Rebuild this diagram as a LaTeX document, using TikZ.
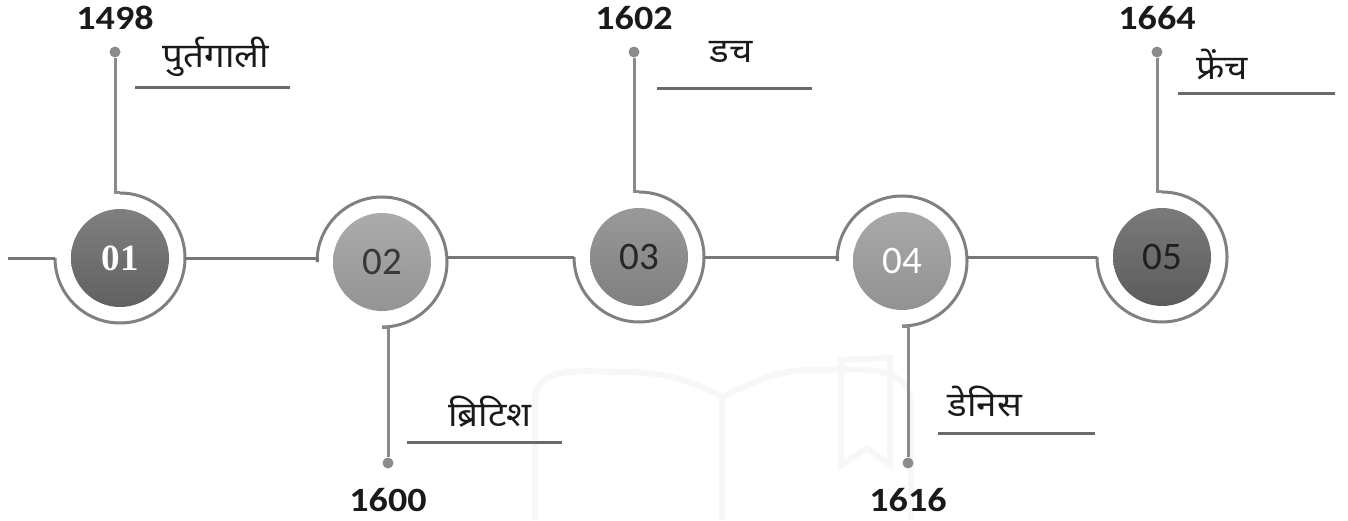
\documentclass[tikz,border=0pt]{standalone}
\usepackage{fontspec}
\newfontfamily\yearfont{Carlito}
\newfontfamily\numserif{Liberation Serif}
\newfontfamily\hindi[Script=Devanagari]{Noto Sans}
\usetikzlibrary{calc}

\definecolor{linegray}{HTML}{777777}
\definecolor{ringgray}{HTML}{808080}
\definecolor{stemgray}{HTML}{8A8A8A}
\definecolor{dotgray}{HTML}{8C8C8C}
\definecolor{rulegray}{HTML}{6A6A6A}
\definecolor{markgray}{HTML}{F7F7F7}
\definecolor{inkdark}{HTML}{1A1A1A}

\tikzset{
  link/.style={draw=linegray, line width=3pt},
  ringline/.style={draw=ringgray, line width=3pt},
  stem/.style={draw=stemgray, line width=3pt},
  rule/.style={draw=rulegray, line width=3pt},
  pin/.style={circle, fill=dotgray, inner sep=0pt, minimum size=11pt},
  disk/.style={circle, inner sep=0pt, minimum size=98pt},
  year/.style={font=\yearfont\bfseries\fontsize{34}{34}\selectfont, text=inkdark, xscale=1.12, inner sep=0pt},
  place/.style={font=\hindi\fontsize{34}{34}\selectfont, text=inkdark, xscale=1.08, inner sep=0pt},
  numsans/.style={font=\yearfont\fontsize{39}{39}\selectfont},
}

\begin{document}
\begin{tikzpicture}[x=1pt,y=1pt]
\useasboundingbox (0,0) rectangle (1348,520);

% faint book logo in the background
\begin{scope}[draw=markgray, line width=6pt]
  \draw (535,0) -- (535,120) to[out=90,in=180] (623,148) to[out=0,in=155] (722,124) -- (722,0);
  \draw (724,124) to[out=25,in=180] (813,150) to[out=0,in=95] (911,118) -- (911,0);
  \draw (841,55) -- (841,160) -- (890,162) -- (890,55) -- (867,72) -- cycle;
\end{scope}

% circles
\node[disk, top color=black!50, bottom color=black!62] (n1) at (120,262) {};
\node[disk, top color=black!33, bottom color=black!42] (n2) at (382,258) {};
\node[disk, top color=black!40, bottom color=black!50] (n3) at (639,263) {};
\node[disk, top color=black!34, bottom color=black!43] (n4) at (902,259) {};
\node[disk, top color=black!52, bottom color=black!64] (n5) at (1162,263) {};

\node[font=\numserif\bfseries\fontsize{37}{37}\selectfont, text=white] at (n1) {01};
\node[numsans, text=black!78] at (n2) {02};
\node[numsans, text=black!85] at (n3) {03};
\node[numsans, text=white] at (n4) {04};
\node[numsans, text=black!88] at (n5) {05};

% end pins
\node[pin] (d1) at (115,468) {};
\node[pin] (d2) at (388,57) {};
\node[pin] (d3) at (634,468) {};
\node[pin] (d4) at (908,57) {};
\node[pin] (d5) at (1157,468) {};

% ring key points
\foreach \i in {1,...,5} {
  \coordinate (L\i) at ($(n\i.center)+(-65,0)$);
  \coordinate (R\i) at ($(n\i.center)+(65,0)$);
}
\coordinate (start) at (8,262);

% rings: upper-stem rings open on the upper left, lower-stem rings on the lower left
\foreach \i in {1,3,5} {
  \draw[ringline] (L\i) arc[start angle=180, end angle=450, radius=65] coordinate (T\i);
  \draw[stem] (T\i) -- (T\i -| d\i) -- (d\i);
}
\foreach \i in {2,4} {
  \draw[ringline] (L\i) arc[start angle=180, end angle=-90, radius=65] coordinate (B\i);
  \draw[stem] (B\i) -- (B\i -| d\i) -- (d\i);
}

% main line, kept at one level
\draw[link] (start) -- (L1);
\draw[link] (R1) -- (R1 -| L2) -- (L2);
\draw[link] (R2 |- L3) -- (L3);
\draw[link] (R3) -- (R3 -| L4) -- (L4);
\draw[link] (R4 |- L5) -- (L5);

% years
\node[year] (y1) at (115,502) {1498};
\node[year] (y2) at (388,20) {1600};
\node[year] (y3) at (634,502) {1602};
\node[year] (y4) at (908,20) {1616};
\node[year] (y5) at (1157,502) {1664};

% names and their rules
\node[place] (p1) at (216,463) {पुर्तगाली};
\node[place] (p2) at (490,108) {ब्रिटिश};
\node[place] (p3) at (731,468) {डच};
\node[place] (p4) at (985,118) {डेनिस};
\node[place] (p5) at (1222,456) {फ्रेंच};

\coordinate (u1a) at (135,432); \coordinate (u1b) at (290,432);
\coordinate (u2a) at (407,78);  \coordinate (u2b) at (562,78);
\coordinate (u3a) at (657,431); \coordinate (u3b) at (812,431);
\coordinate (u4a) at (938,87);  \coordinate (u4b) at (1095,87);
\coordinate (u5a) at (1178,426); \coordinate (u5b) at (1335,426);
\foreach \i in {1,...,5} { \draw[rule] (u\i a) -- (u\i b); }
\end{tikzpicture}
\end{document}
